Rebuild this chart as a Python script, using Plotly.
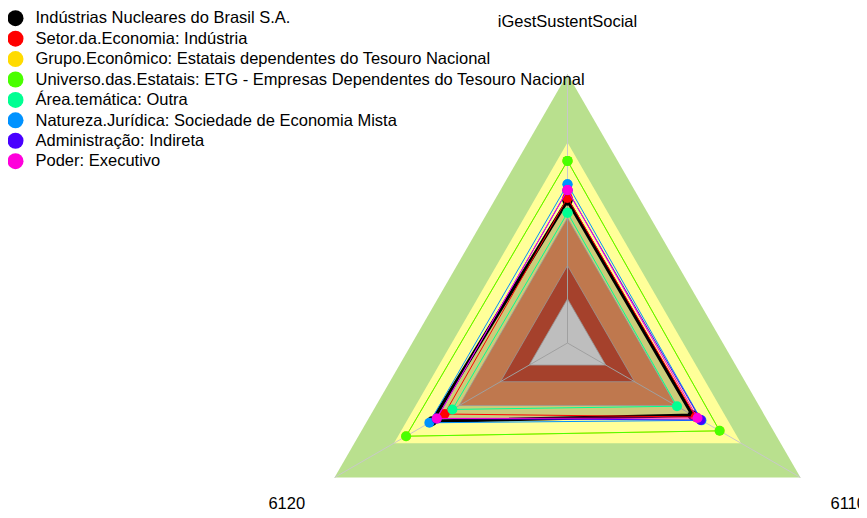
import numpy as np
import plotly.graph_objects as go

# ---------------- data ----------------
categories = ["iGestSustentSocial", "6120", "6110"]

series_names = [
    "Indústrias Nucleares do Brasil S.A.",
    "Setor.da.Economia: Indústria",
    "Grupo.Econômico: Estatais dependentes do Tesouro Nacional",
    "Universo.das.Estatais: ETG - Empresas Dependentes do Tesouro Nacional",
    "Área.temática: Outra",
    "Natureza.Jurídica: Sociedade de Economia Mista",
    "Administração: Indireta",
    "Poder: Executivo",
]

inb_values = [0.530, 0.582, 0.537]
setor_values = [0.540, 0.528, 0.550]
grupo_values = [0.677, 0.693, 0.653]
universo_values = [0.677, 0.693, 0.653]
area_values = [0.484, 0.494, 0.470]
natureza_values = [0.590, 0.593, 0.575]
administracao_values = [0.568, 0.562, 0.572]
poder_values = [0.569, 0.561, 0.558]

series_values = [inb_values, setor_values, grupo_values, universo_values,
                 area_values, natureza_values, administracao_values, poder_values]

# background reference bands (outer limit of each band, on the 0-1 scale)
band_levels = [1.0, 0.745, 0.465, 0.288, 0.164]

# ---------------- styles ----------------
series_colors = ["#000000", "#FF0000", "#FFDB00", "#49FF00",
                 "#00FF92", "#0092FF", "#4900FF", "#FF00DB"]
band_colors = ["rgb(185,224,142)", "rgb(255,255,153)", "rgb(239,151,98)",
               "rgb(207,82,55)", "rgb(238,238,238)"]
band_lines = [0, 0, 0.8, 0.8, 0.8]
label_radius = [1.19, 1.205, 1.205]

FONT = "Arial, 'Liberation Sans', sans-serif"
TXT = 16.5


def radar_xy(values):
    """Place values on radar spokes: first category on top, counter-clockwise."""
    n = len(values)
    theta = np.deg2rad(90 + 360.0 * np.arange(n) / n)
    r = np.asarray(values, dtype=float)
    x = r * np.cos(theta)
    y = r * np.sin(theta)
    return np.append(x, x[0]), np.append(y, y[0])


fig = go.Figure()

# background bands
for lvl, col, lw in zip(band_levels, band_colors, band_lines):
    bx, by = radar_xy([lvl] * len(categories))
    fig.add_trace(go.Scatter(
        x=bx, y=by, mode="lines", fill="toself", fillcolor=col,
        line=dict(color="rgb(190,190,190)", width=lw if lw else 0.01),
        hoverinfo="skip", showlegend=False))

# spokes
for k in range(len(categories)):
    unit = [0.0] * len(categories)
    unit[k] = 1.0
    sx, sy = radar_xy(unit)
    fig.add_trace(go.Scatter(
        x=[0, sx[k]], y=[0, sy[k]], mode="lines",
        line=dict(color="rgb(200,200,200)", width=1),
        hoverinfo="skip", showlegend=False))

# data series
for i, (name, vals, col) in enumerate(zip(series_names, series_values, series_colors)):
    px_, py_ = radar_xy(vals)
    is_main = i == 0
    fig.add_trace(go.Scatter(
        x=px_, y=py_, mode="lines+markers", name=name,
        line=dict(color=col, width=3.5 if is_main else 1),
        fill="toself" if is_main else None,
        fillcolor="rgba(0,0,0,0.2)" if is_main else None,
        marker=dict(color=col, size=10, line=dict(width=0)),
        showlegend=False))

# legend entries (circle symbols only)
for name, col in zip(series_names, series_colors):
    fig.add_trace(go.Scatter(
        x=[None], y=[None], mode="markers",
        name=f"<span style='font-size:{TXT}px'>{name}</span>",
        marker=dict(color=col, size=16, line=dict(width=0)),
        showlegend=True))

# category labels outside the vertices
lx, ly = radar_xy(label_radius)
fig.add_trace(go.Scatter(
    x=lx[:-1], y=ly[:-1], mode="text", text=categories,
    textposition="middle center",
    textfont=dict(family=FONT, size=TXT, color="black"),
    hoverinfo="skip", showlegend=False, cliponaxis=False))

# page body adds an 8px offset; figure is sized to the remaining window
W, H = 859, 510
cx, cy, scale = 559.5, 335.0, 269.0

fig.update_layout(
    width=W, height=H,
    margin=dict(l=0, r=0, t=0, b=0, autoexpand=False),
    paper_bgcolor="white", plot_bgcolor="white",
    font=dict(family=FONT, size=TXT, color="black"),
    xaxis=dict(range=[-cx / scale, (W - cx) / scale], visible=False,
               showgrid=False, zeroline=False, fixedrange=True),
    yaxis=dict(range=[-(H - cy) / scale, cy / scale], visible=False,
               showgrid=False, zeroline=False, fixedrange=True),
    legend=dict(x=-12.5 / W, y=1 + 5 / H, xanchor="left", yanchor="top",
                bgcolor="rgba(0,0,0,0)", borderwidth=0,
                font=dict(family=FONT, size=13.4, color="black"),
                tracegroupgap=0, itemwidth=30),
    showlegend=True,
)

fig.write_html("out.html")
